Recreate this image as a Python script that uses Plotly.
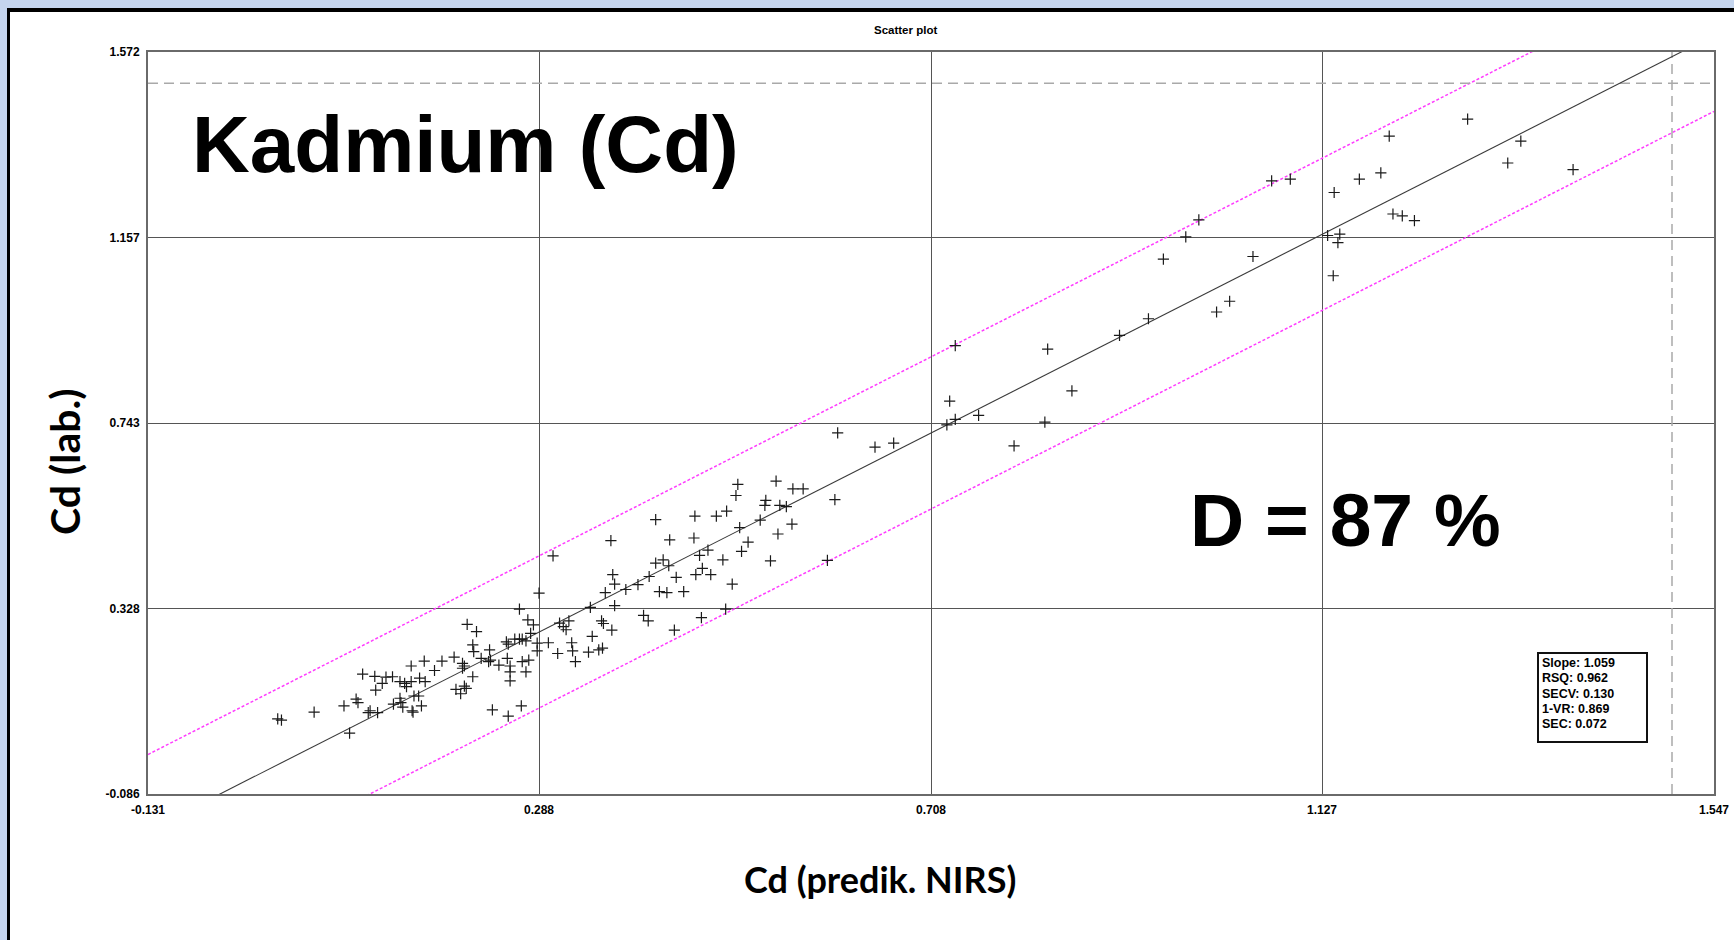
import plotly.graph_objects as go

# ---------------- data ----------------
pred_nirs = [
    1.073, 1.093, 1.199, 1.283, 1.340, 1.326, 1.396, 1.190, 1.167, 1.140, 1.203, 1.213, 1.226, 1.133, 1.146, 1.144, 1.053, 1.139,
    0.995, 0.981, 0.957, 1.028, 1.014, 0.941, 0.910, 0.734, 0.833, 0.859, 0.728, 0.759, 0.734, 0.725, 0.830, 0.797,
    0.608, 0.648, 0.668, 0.542, 0.560, 0.571, 0.531, 0.530, 0.546, 0.553, 0.605, 0.525, 0.559, 0.544,
    0.303, 0.365, 0.413, 0.455, 0.478, 0.489, 0.499, 0.501, 0.597, 0.503, 0.512, 0.505, 0.536, 0.495, 0.454, 0.469,
    0.460, 0.485, 0.428, 0.421, 0.413, 0.427, 0.463, 0.456, 0.472, 0.406, 0.435, 0.367, 0.369, 0.394, 0.381, 0.359,
    0.417, 0.425, 0.443, 0.369, 0.400, 0.405, 0.462, 0.488, 0.433, 0.355, 0.357, 0.366, 0.356,
    0.288, 0.267, 0.343, 0.276, 0.282, 0.279, 0.286, 0.286, 0.298, 0.308, 0.310, 0.314, 0.317, 0.320, 0.323, 0.324,
    0.327, 0.341, 0.345, 0.352, 0.253, 0.255, 0.262, 0.267, 0.270, 0.274, 0.277, 0.254, 0.257, 0.257, 0.270, 0.274,
    0.257, 0.269, 0.255, 0.238, 0.245, 0.235, 0.236, 0.234, 0.226, 0.221, 0.217, 0.218, 0.211, 0.217, 0.206, 0.206,
    0.208, 0.199, 0.204, 0.210, 0.208, 0.197, 0.184, 0.176, 0.165, 0.160, 0.166, 0.151, 0.151, 0.144, 0.146, 0.139,
    0.131, 0.120, 0.124, 0.113, 0.099, 0.112, 0.139, 0.140, 0.142, 0.132, 0.152, 0.153, 0.154, 0.159, 0.162, 0.115,
    0.105, 0.107, 0.092, 0.094, 0.079, 0.085, 0.047, 0.008, 0.012,
]
lab_values = [
    1.284, 1.288, 1.384, 1.422, 1.373, 1.324, 1.309, 1.302, 1.288, 1.258, 1.210, 1.206, 1.195, 1.162, 1.165, 1.146, 1.115, 1.072,
    1.197, 1.159, 1.109, 1.015, 0.991, 0.976, 0.939, 0.916, 0.908, 0.815, 0.792, 0.760, 0.751, 0.739, 0.745, 0.692,
    0.721, 0.689, 0.698, 0.613, 0.596, 0.596, 0.570, 0.559, 0.559, 0.556, 0.572, 0.526, 0.517, 0.495,
    0.446, 0.480, 0.527, 0.535, 0.535, 0.546, 0.581, 0.606, 0.436, 0.509, 0.477, 0.456, 0.435, 0.383, 0.486, 0.459,
    0.447, 0.437, 0.482, 0.437, 0.430, 0.424, 0.418, 0.404, 0.404, 0.400, 0.398, 0.404, 0.383, 0.382, 0.371, 0.364,
    0.366, 0.364, 0.366, 0.335, 0.313, 0.301, 0.308, 0.327, 0.280, 0.301, 0.295, 0.280, 0.240,
    0.363, 0.327, 0.331, 0.303, 0.292, 0.273, 0.251, 0.234, 0.252, 0.228, 0.296, 0.288, 0.281, 0.301, 0.252, 0.234,
    0.210, 0.231, 0.266, 0.236, 0.254, 0.249, 0.260, 0.260, 0.260, 0.256, 0.213, 0.217, 0.200, 0.187, 0.210, 0.187,
    0.167, 0.111, 0.088, 0.102, 0.202, 0.236, 0.213, 0.210, 0.217, 0.277, 0.247, 0.232, 0.293, 0.176, 0.206, 0.195,
    0.200, 0.148, 0.138, 0.150, 0.155, 0.220, 0.211, 0.190, 0.211, 0.173, 0.165, 0.200, 0.165, 0.161, 0.154, 0.165,
    0.176, 0.161, 0.175, 0.146, 0.182, 0.177, 0.128, 0.118, 0.108, 0.115, 0.100, 0.097, 0.133, 0.133, 0.111, 0.096,
    0.096, 0.100, 0.126, 0.118, 0.111, 0.050, 0.097, 0.082, 0.079,
]

x_ticks = [-0.131, 0.288, 0.708, 1.127, 1.547]
y_ticks = [-0.086, 0.328, 0.743, 1.157, 1.572]
x_tick_labels = ["-0.131", "0.288", "0.708", "1.127", "1.547"]
y_tick_labels = ["-0.086", "0.328", "0.743", "1.157", "1.572"]

reg_slope = 1.059
reg_intercept = -0.029
band_offset = 0.170
limit_value = 1.502

stats_labels = ["Slope", "RSQ", "SECV", "1-VR", "SEC"]
stats_values = ["1.059", "0.962", "0.130", "0.869", "0.072"]

# ---------------- layout helpers ----------------
W, H = 1734, 940
L, R, T, B = 148, 20, 52, 146
PW, PH = W - L - R, H - T - B


def px(xp):
    return (xp - L) / PW


def py(yp):
    return (H - B - yp) / PH


x_lo, x_hi = x_ticks[0], x_ticks[-1]
y_lo, y_hi = y_ticks[0], y_ticks[-1]
line_x = [x_lo, x_hi]

fig = go.Figure()

# upper / lower prediction band (magenta dotted)
for sgn in (1, -1):
    fig.add_trace(go.Scatter(
        x=line_x, y=[reg_slope * v + reg_intercept + sgn * band_offset for v in line_x],
        mode="lines", line=dict(color="#ff3dff", width=1.5, dash="3px,2px"),
        hoverinfo="skip", showlegend=False))

# limit lines (grey dashed)
fig.add_trace(go.Scatter(x=[x_lo, x_hi], y=[limit_value, limit_value], mode="lines",
                         line=dict(color="#a9a9a9", width=1.5, dash="10px,6px"),
                         hoverinfo="skip", showlegend=False))
fig.add_trace(go.Scatter(x=[limit_value, limit_value], y=[y_lo, y_hi], mode="lines",
                         line=dict(color="#a9a9a9", width=1.5, dash="10px,6px"),
                         hoverinfo="skip", showlegend=False))

# regression line
fig.add_trace(go.Scatter(
    x=line_x, y=[reg_slope * v + reg_intercept for v in line_x],
    mode="lines", line=dict(color="#3a3a3a", width=1.1),
    hoverinfo="skip", showlegend=False))

# samples
fig.add_trace(go.Scatter(
    x=pred_nirs, y=lab_values, mode="markers",
    marker=dict(symbol="cross-thin", size=8, line=dict(color="#1a1a1a", width=1.2)),
    showlegend=False))

# ---------------- frame shapes ----------------
shapes = [
    dict(type="rect", xref="paper", yref="paper", layer="below",
         x0=px(7), x1=px(W + 10), y0=py(H + 10), y1=py(8),
         fillcolor="#000000", line=dict(width=0)),
    dict(type="rect", xref="paper", yref="paper", layer="below",
         x0=px(10), x1=px(W + 10), y0=py(H + 10), y1=py(12),
         fillcolor="#ffffff", line=dict(width=0)),
    dict(type="rect", xref="paper", yref="paper", layer="above",
         x0=px(1538), x1=px(1647), y0=py(742), y1=py(653),
         fillcolor="rgba(255,255,255,0)", line=dict(color="#111111", width=2)),
]

annotations = [
    dict(text="<b>Scatter plot</b>", xref="paper", yref="paper", x=px(905), y=py(30),
         showarrow=False, font=dict(family="Liberation Sans, Arial", size=11.5, color="#000"),
         xanchor="center", yanchor="middle"),
    dict(text="<b>Kadmium (Cd)</b>", xref="paper", yref="paper", x=px(190), y=py(144),
         showarrow=False, font=dict(family="Liberation Sans, Arial", size=80, color="#000"),
         xanchor="left", yanchor="middle"),
    dict(text="<b>D = 87 %</b>", xref="paper", yref="paper", x=px(1188), y=py(520),
         showarrow=False, font=dict(family="Liberation Sans, Arial", size=75, color="#000"),
         xanchor="left", yanchor="middle"),
    dict(text="<b>Cd (lab.)</b>", xref="paper", yref="paper", x=px(64), y=py(462),
         showarrow=False, textangle=-90, font=dict(family="Lato, Liberation Sans", size=41, color="#000"),
         xanchor="center", yanchor="middle"),
    dict(text="<b>Cd (predik. NIRS)</b>", xref="paper", yref="paper", x=px(880), y=py(879),
         showarrow=False, font=dict(family="Lato, Liberation Sans", size=36, color="#000"),
         xanchor="center", yanchor="middle"),
]

# stats box lines
for i, (lab, val) in enumerate(zip(stats_labels, stats_values)):
    annotations.append(dict(
        text=f"<b>{lab}: {val}</b>", xref="paper", yref="paper",
        x=px(1540), y=py(662.7 + 15.4 * i), showarrow=False, align="left",
        font=dict(family="Liberation Sans, Arial", size=12.5, color="#000"),
        xanchor="left", yanchor="middle"))

axis_common = dict(
    showgrid=True, gridcolor="#555555", gridwidth=1.4,
    showline=True, mirror=True, linecolor="#6a6a6a", linewidth=2,
    zeroline=False, ticks="", automargin=False,
    tickfont=dict(family="Liberation Sans, Arial", size=12, color="#000"),
)

fig.update_layout(
    width=W, height=H,
    margin=dict(l=L, r=R, t=T, b=B, pad=0),
    paper_bgcolor="#c5d5ee", plot_bgcolor="#ffffff",
    shapes=shapes, annotations=annotations,
    showlegend=False,
    xaxis=dict(range=[x_lo, x_hi], tickvals=x_ticks, ticktext=[f"<b>{t}</b>" for t in x_tick_labels],
               ticklabelstandoff=4, **axis_common),
    yaxis=dict(range=[y_lo, y_hi], tickvals=y_ticks, ticktext=[f"<b>{t}</b>" for t in y_tick_labels],
               ticklabelstandoff=4, **axis_common),
)

fig.write_html("out.html", config={"displayModeBar": False},
               post_script="document.body.style.margin='0px';")
